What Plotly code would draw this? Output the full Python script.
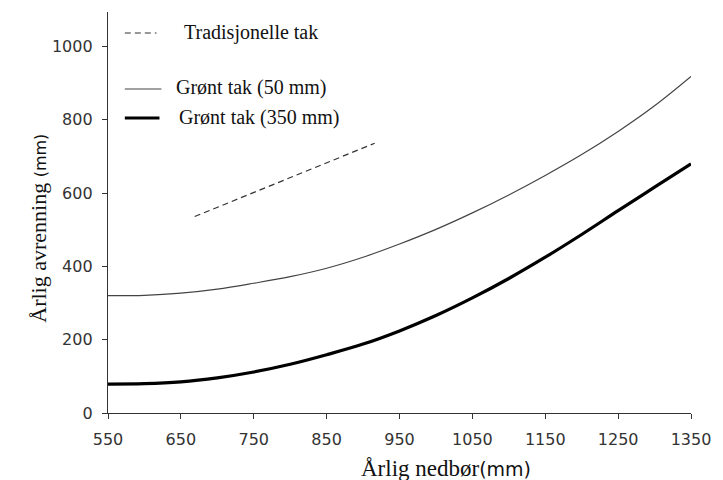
import plotly.graph_objects as go

# Data
precip = [550, 600, 650, 700, 750, 800, 850, 900, 950, 1000, 1050, 1100, 1150, 1200, 1250, 1300, 1350]
green_50 = [320, 321, 327, 338, 354, 372, 395, 425, 461, 501, 546, 595, 648, 705, 768, 838, 918]
green_350 = [79, 80, 85, 96, 112, 133, 159, 188, 224, 266, 314, 367, 425, 487, 552, 616, 680]
trad_x = [669, 916]
trad_y = [536, 736]

x_ticks = [550, 650, 750, 850, 950, 1050, 1150, 1250, 1350]
y_ticks = [0, 200, 400, 600, 800, 1000]

legend_labels = ["Tradisjonelle tak", "Grønt tak (50 mm)", "Grønt tak (350 mm)"]

W, H = 723, 480
ML, MR, MT, MB = 108, 26, 12, 67
PW = W - ML - MR
PH = H - MT - MB


def px(x):
    return (x - ML) / PW


def py(y):
    return (H - MB - y) / PH


fig = go.Figure()
fig.add_trace(go.Scatter(x=trad_x, y=trad_y, mode="lines",
                         line=dict(color="#333333", width=1.2, dash="6px,4px"),
                         hoverinfo="skip", showlegend=False))
fig.add_trace(go.Scatter(x=precip, y=green_50, mode="lines",
                         line=dict(color="#444444", width=1.2, shape="spline"),
                         hoverinfo="skip", showlegend=False))
fig.add_trace(go.Scatter(x=precip, y=green_350, mode="lines",
                         line=dict(color="#000000", width=3.2, shape="spline"),
                         hoverinfo="skip", showlegend=False))

serif = "Liberation Serif, Times New Roman, serif"
sans = "DejaVu Sans, sans-serif"

# legend-like annotations
leg_rows = [
    (183, 32, legend_labels[0], 125, 157, dict(color="#333333", width=1.2, dash="6px,4px")),
    (175, 88, legend_labels[1], 125, 162, dict(color="#444444", width=1.2)),
    (178, 117, legend_labels[2], 125, 160, dict(color="#000000", width=3.2)),
]
shapes = []
annotations = []
for tx, ty, label, x0, x1, ln in leg_rows:
    annotations.append(dict(xref="paper", yref="paper", x=px(tx), y=py(ty),
                            xanchor="left", yanchor="middle", showarrow=False,
                            text=label, font=dict(family=serif, size=20, color="#111111")))
    shapes.append(dict(type="line", xref="paper", yref="paper",
                       x0=px(x0), x1=px(x1), y0=py(ty + 1), y1=py(ty + 1), line=ln))

# axis titles
annotations.append(dict(xref="paper", yref="paper", x=px(449), y=py(468),
                        xanchor="center", yanchor="middle", showarrow=False,
                        text='Årlig nedbør<span style="font-family:DejaVu Sans;font-size:19px">(mm)</span>',
                        font=dict(family=serif, size=23, color="#111111")))
annotations.append(dict(xref="paper", yref="paper", x=px(37), y=py(228),
                        xanchor="center", yanchor="middle", showarrow=False, textangle=-90,
                        text='Årlig avrenning <span style="font-family:DejaVu Sans;font-size:16px">(mm)</span>',
                        font=dict(family=serif, size=22, color="#111111")))

axis_common = dict(showgrid=False, zeroline=False, showline=True, linecolor="#333333",
                   linewidth=1.3, ticks="outside", ticklen=5, tickcolor="#333333",
                   tickwidth=1.2, tickfont=dict(family=sans, size=16, color="#333333"))

fig.update_layout(
    width=W, height=H,
    margin=dict(l=ML, r=MR, t=MT, b=MB, pad=0),
    paper_bgcolor="white", plot_bgcolor="white",
    xaxis=dict(range=[550, 1350], tickvals=x_ticks, ticktext=[str(v) for v in x_ticks],
               ticklabelstandoff=7, **axis_common),
    yaxis=dict(range=[0, 1094], tickvals=y_ticks, ticktext=[str(v) for v in y_ticks],
               ticklabelstandoff=6, **axis_common),
    shapes=shapes,
    annotations=annotations,
    showlegend=False,
)

fig.write_html("out.html")
